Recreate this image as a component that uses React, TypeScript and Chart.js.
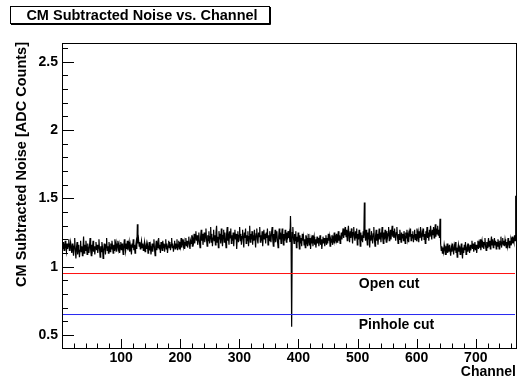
import { useEffect, useRef } from "react";
import { Chart, registerables } from "chart.js";

Chart.register(...registerables);

// Common-mode subtracted noise per readout channel (768 channels)
const NOISE: number[] = [
  1.16,1.13,1.18,1.12,1.15,1.19,1.14,1.11,1.17,1.13,1.16,1.20,1.12,1.15,1.18,1.14,
  1.10,1.17,1.13,1.08,1.15,1.21,1.12,1.06,1.14,1.18,1.09,1.13,1.16,1.07,1.12,1.19,
  1.11,1.15,1.08,1.13,1.22,1.10,1.16,1.12,1.19,1.14,1.09,1.17,1.13,1.10,1.15,1.21,
  1.12,1.08,1.16,1.13,1.19,1.11,1.15,1.09,1.14,1.18,1.12,1.16,1.10,1.14,1.20,1.13,
  1.07,1.15,1.11,1.18,1.14,1.06,1.12,1.17,1.13,1.09,1.16,1.21,1.12,1.15,1.10,1.18,
  1.14,1.11,1.17,1.13,1.19,1.15,1.10,1.16,1.12,1.20,1.14,1.17,1.11,1.15,1.19,1.13,
  1.16,1.10,1.14,1.18,1.12,1.17,1.13,1.09,1.15,1.20,1.14,1.11,1.17,1.13,1.19,1.12,
  1.15,1.18,1.11,1.16,1.13,1.09,1.17,1.14,1.20,1.12,1.16,1.10,1.15,1.18,1.13,1.31,
  1.17,1.20,1.15,1.18,1.13,1.16,1.19,1.14,1.17,1.12,1.15,1.18,1.11,1.14,1.17,1.13,
  1.16,1.10,1.14,1.18,1.12,1.15,1.09,1.13,1.17,1.11,1.16,1.20,1.13,1.08,1.15,1.19,
  1.12,1.17,1.14,1.21,1.13,1.16,1.10,1.18,1.15,1.12,1.19,1.14,1.17,1.11,1.16,1.20,
  1.13,1.17,1.10,1.15,1.19,1.14,1.18,1.12,1.16,1.21,1.14,1.17,1.11,1.15,1.19,1.13,
  1.17,1.14,1.20,1.12,1.16,1.19,1.13,1.18,1.15,1.21,1.14,1.17,1.20,1.15,1.18,1.13,
  1.17,1.21,1.15,1.19,1.14,1.18,1.22,1.16,1.13,1.19,1.17,1.23,1.15,1.20,1.18,1.24,
  1.17,1.21,1.26,1.19,1.23,1.16,1.20,1.25,1.18,1.14,1.22,1.27,1.19,1.24,1.16,1.21,
  1.25,1.18,1.22,1.28,1.20,1.15,1.23,1.19,1.26,1.17,1.22,1.29,1.18,1.24,1.15,1.21,
  1.27,1.19,1.23,1.16,1.25,1.30,1.18,1.22,1.14,1.26,1.20,1.24,1.17,1.28,1.21,1.15,
  1.23,1.27,1.18,1.25,1.20,1.14,1.24,1.29,1.19,1.22,1.16,1.26,1.21,1.28,1.17,1.23,
  1.19,1.25,1.15,1.22,1.27,1.20,1.24,1.13,1.21,1.26,1.18,1.23,1.29,1.19,1.24,1.16,
  1.22,1.27,1.20,1.14,1.25,1.21,1.28,1.17,1.23,1.19,1.26,1.15,1.22,1.30,1.18,1.24,
  1.20,1.26,1.16,1.23,1.19,1.27,1.21,1.14,1.24,1.28,1.20,1.17,1.25,1.22,1.29,1.18,
  1.23,1.19,1.26,1.15,1.22,1.27,1.20,1.24,1.17,1.25,1.21,1.28,1.16,1.23,1.19,1.26,
  1.22,1.18,1.25,1.29,1.20,1.15,1.24,1.21,1.27,1.18,1.23,1.26,1.19,1.14,1.22,1.28,
  1.20,1.25,1.17,1.23,1.28,1.21,1.16,1.24,1.19,1.27,1.22,1.18,1.25,1.20,1.26,1.21,
  1.24,1.18,1.37,1.20,0.56,1.25,1.29,1.21,1.17,1.24,1.19,1.26,1.14,1.22,1.18,1.25,
  1.20,1.13,1.23,1.17,1.21,1.15,1.24,1.19,1.22,1.16,1.20,1.14,1.23,1.18,1.21,1.15,
  1.19,1.24,1.16,1.21,1.13,1.20,1.17,1.23,1.15,1.19,1.22,1.16,1.20,1.14,1.18,1.22,
  1.17,1.21,1.15,1.19,1.23,1.16,1.20,1.13,1.18,1.22,1.17,1.21,1.15,1.19,1.23,1.16,
  1.21,1.17,1.24,1.19,1.22,1.15,1.20,1.18,1.23,1.16,1.21,1.19,1.25,1.17,1.22,1.20,
  1.24,1.18,1.22,1.26,1.19,1.23,1.17,1.21,1.25,1.20,1.24,1.28,1.21,1.26,1.23,1.29,
  1.22,1.27,1.19,1.25,1.30,1.23,1.18,1.26,1.21,1.28,1.24,1.17,1.25,1.29,1.22,1.19,
  1.26,1.21,1.28,1.16,1.24,1.20,1.27,1.22,1.15,1.25,1.19,1.23,1.18,1.26,1.21,1.47,
  1.24,1.19,1.27,1.21,1.16,1.25,1.20,1.28,1.14,1.23,1.19,1.26,1.21,1.17,1.24,1.29,
  1.20,1.15,1.23,1.27,1.19,1.24,1.16,1.22,1.28,1.20,1.25,1.18,1.23,1.29,1.21,1.17,
  1.25,1.20,1.27,1.22,1.18,1.26,1.21,1.24,1.29,1.19,1.23,1.27,1.20,1.25,1.30,1.22,
  1.26,1.21,1.28,1.23,1.19,1.25,1.29,1.22,1.17,1.24,1.20,1.27,1.23,1.18,1.25,1.21,
  1.24,1.19,1.26,1.22,1.17,1.25,1.21,1.27,1.20,1.23,1.18,1.25,1.22,1.28,1.19,1.24,
  1.21,1.26,1.18,1.23,1.27,1.20,1.24,1.19,1.28,1.22,1.25,1.18,1.26,1.21,1.29,1.23,
  1.19,1.25,1.22,1.28,1.20,1.24,1.17,1.26,1.23,1.29,1.21,1.25,1.19,1.27,1.22,1.30,
  1.24,1.20,1.27,1.23,1.29,1.21,1.26,1.31,1.22,1.28,1.24,1.30,1.23,1.27,1.21,1.35,
  1.17,1.12,1.15,1.10,1.14,1.11,1.16,1.13,1.09,1.15,1.12,1.17,1.10,1.14,1.11,1.16,
  1.12,1.08,1.14,1.11,1.17,1.13,1.09,1.15,1.12,1.18,1.10,1.14,1.07,1.13,1.16,1.11,
  1.15,1.09,1.13,1.17,1.11,1.06,1.14,1.10,1.16,1.12,1.18,1.09,1.13,1.15,1.11,1.17,
  1.13,1.10,1.16,1.12,1.15,1.19,1.13,1.17,1.11,1.14,1.18,1.12,1.16,1.10,1.15,1.19,
  1.13,1.17,1.14,1.20,1.12,1.16,1.19,1.14,1.18,1.13,1.17,1.21,1.15,1.12,1.18,1.14,
  1.17,1.21,1.15,1.19,1.13,1.18,1.22,1.16,1.20,1.14,1.17,1.21,1.16,1.19,1.13,1.18,
  1.15,1.20,1.17,1.13,1.19,1.16,1.22,1.14,1.18,1.21,1.16,1.19,1.15,1.20,1.17,1.14,
  1.18,1.15,1.21,1.17,1.14,1.19,1.16,1.20,1.18,1.22,1.17,1.20,1.18,1.23,1.19,1.52,
];

const CHANNEL_MIN = 0;
const CHANNEL_MAX = 768;
const NOISE_MIN = 0.405;
const NOISE_MAX = 2.637;

const OPEN_CUT = 0.95;
const PINHOLE_CUT = 0.65;
const OPEN_CUT_LABEL = "Open cut";
const PINHOLE_CUT_LABEL = "Pinhole cut";
const CUT_LABEL_CHANNEL = 502;
const CUT_LINES = [
  { value: OPEN_CUT, label: OPEN_CUT_LABEL, color: "#ff1010" },
  { value: PINHOLE_CUT, label: PINHOLE_CUT_LABEL, color: "#2828f0" },
];

const X_MAJOR_TICKS = [100, 200, 300, 400, 500, 600, 700];
const Y_MAJOR_TICKS = [0.5, 1, 1.5, 2, 2.5];
const X_MINOR_STEP = 20;
const Y_MINOR_STEP = 0.1;

const TITLE = "CM Subtracted Noise vs. Channel";
const X_TITLE = "Channel";
const Y_TITLE = "CM Subtracted Noise [ADC Counts]";

const FONT_FAMILY = "'Liberation Sans', Arial, Helvetica, sans-serif";
const BOLD = `bold 14px ${FONT_FAMILY}`;
const BOLD_TITLE = `bold 14.5px ${FONT_FAMILY}`;

const rootStyle = {
  id: "rootStyle",
  afterDraw(chart: any) {
    const { ctx, chartArea } = chart;
    const xs = chart.scales.x;
    const ys = chart.scales.y;
    const { left, right, top, bottom } = chartArea;
    ctx.save();

    // tick marks, drawn inward from the frame
    ctx.strokeStyle = "#000";
    ctx.lineWidth = 1;
    ctx.beginPath();
    for (let v = CHANNEL_MIN + X_MINOR_STEP; v < CHANNEL_MAX; v += X_MINOR_STEP) {
      const px = Math.round(xs.getPixelForValue(v)) + 0.5;
      const major = v % 100 === 0;
      ctx.moveTo(px, bottom);
      ctx.lineTo(px, bottom - (major ? 9 : 4.5));
    }
    for (let k = 5; k <= 26; k++) {
      const v = k * Y_MINOR_STEP;
      if (v < NOISE_MIN || v > NOISE_MAX) continue;
      const py = Math.round(ys.getPixelForValue(v)) + 0.5;
      const major = k % 5 === 0;
      ctx.moveTo(left, py);
      ctx.lineTo(left + (major ? 12 : 6), py);
    }
    ctx.stroke();

    // frame
    ctx.strokeRect(Math.round(left) + 0.5, Math.round(top) + 0.5, Math.round(right - left), Math.round(bottom - top));

    // cut lines with their labels
    ctx.font = BOLD;
    ctx.textAlign = "left";
    ctx.textBaseline = "alphabetic";
    const x0 = xs.getPixelForValue(CHANNEL_MIN);
    const x1 = xs.getPixelForValue(CHANNEL_MAX);
    const lx = xs.getPixelForValue(CUT_LABEL_CHANNEL);
    for (const cut of CUT_LINES) {
      const py = ys.getPixelForValue(cut.value);
      ctx.strokeStyle = cut.color;
      ctx.beginPath();
      ctx.moveTo(x0 + 1, py);
      ctx.lineTo(x1 - 1, py);
      ctx.stroke();
      ctx.fillStyle = "#000";
      ctx.fillText(cut.label, lx, py + 14);
    }

    // axis titles
    ctx.fillStyle = "#000";
    ctx.textAlign = "right";
    ctx.fillText(X_TITLE, right, 376);
    ctx.save();
    ctx.font = BOLD_TITLE;
    ctx.translate(26, top - 1);
    ctx.rotate(-Math.PI / 2);
    ctx.textAlign = "right";
    ctx.textBaseline = "alphabetic";
    ctx.fillText(Y_TITLE, 0, 0);
    ctx.restore();

    // title box
    ctx.fillStyle = "#fff";
    ctx.fillRect(10, 6, 260, 18);
    ctx.strokeStyle = "#000";
    ctx.strokeRect(10.5, 6.5, 259, 17);
    ctx.beginPath();
    ctx.moveTo(11, 24.5);
    ctx.lineTo(270.5, 24.5);
    ctx.lineTo(270.5, 7);
    ctx.stroke();
    ctx.fillStyle = "#000";
    ctx.font = BOLD_TITLE;
    ctx.textAlign = "center";
    ctx.textBaseline = "middle";
    ctx.fillText(TITLE, 142, 16);

    ctx.restore();
  },
};

export default function App() {
  const canvasRef = useRef<HTMLCanvasElement | null>(null);

  useEffect(() => {
    const canvas = canvasRef.current;
    if (!canvas) return;
    const chart = new Chart(canvas, {
      type: "line",
      data: {
        datasets: [
          {
            label: "noise",
            data: NOISE.map((v, i) => ({ x: i + 0.5, y: v })),
            borderColor: "#000",
            borderWidth: 1.2,
            pointRadius: 0,
            tension: 0,
          },
        ],
      },
      options: {
        responsive: false,
        animation: false,
        devicePixelRatio: 1,
        layout: { padding: { top: 43, right: 4, left: 0, bottom: 0 } },
        plugins: { legend: { display: false }, tooltip: { enabled: false }, title: { display: false } },
        scales: {
          x: {
            type: "linear",
            min: CHANNEL_MIN,
            max: CHANNEL_MAX,
            afterBuildTicks: (s: any) => {
              s.ticks = X_MAJOR_TICKS.map((v) => ({ value: v }));
            },
            afterFit: (s: any) => {
              s.height = 35;
            },
            ticks: {
              autoSkip: false,
              maxRotation: 0,
              padding: 2,
              color: "#000",
              font: { family: FONT_FAMILY, size: 14, weight: "bold" },
              callback: (v: any) => String(v),
            },
            grid: { display: false, drawTicks: false },
            border: { display: false },
          },
          y: {
            type: "linear",
            min: NOISE_MIN,
            max: NOISE_MAX,
            afterBuildTicks: (s: any) => {
              s.ticks = Y_MAJOR_TICKS.map((v) => ({ value: v }));
            },
            afterFit: (s: any) => {
              s.width = 62;
            },
            ticks: {
              padding: 4,
              color: "#000",
              font: { family: FONT_FAMILY, size: 14, weight: "bold" },
              callback: (v: any) => String(v),
            },
            grid: { display: false, drawTicks: false },
            border: { display: false },
          },
        },
      },
      plugins: [rootStyle],
    });
    return () => chart.destroy();
  }, []);

  return (
    <div style={{ position: "fixed", left: 0, top: 0, width: 520, height: 383, background: "#fff" }}>
      <canvas ref={canvasRef} width={520} height={383} style={{ display: "block" }} />
    </div>
  );
}
